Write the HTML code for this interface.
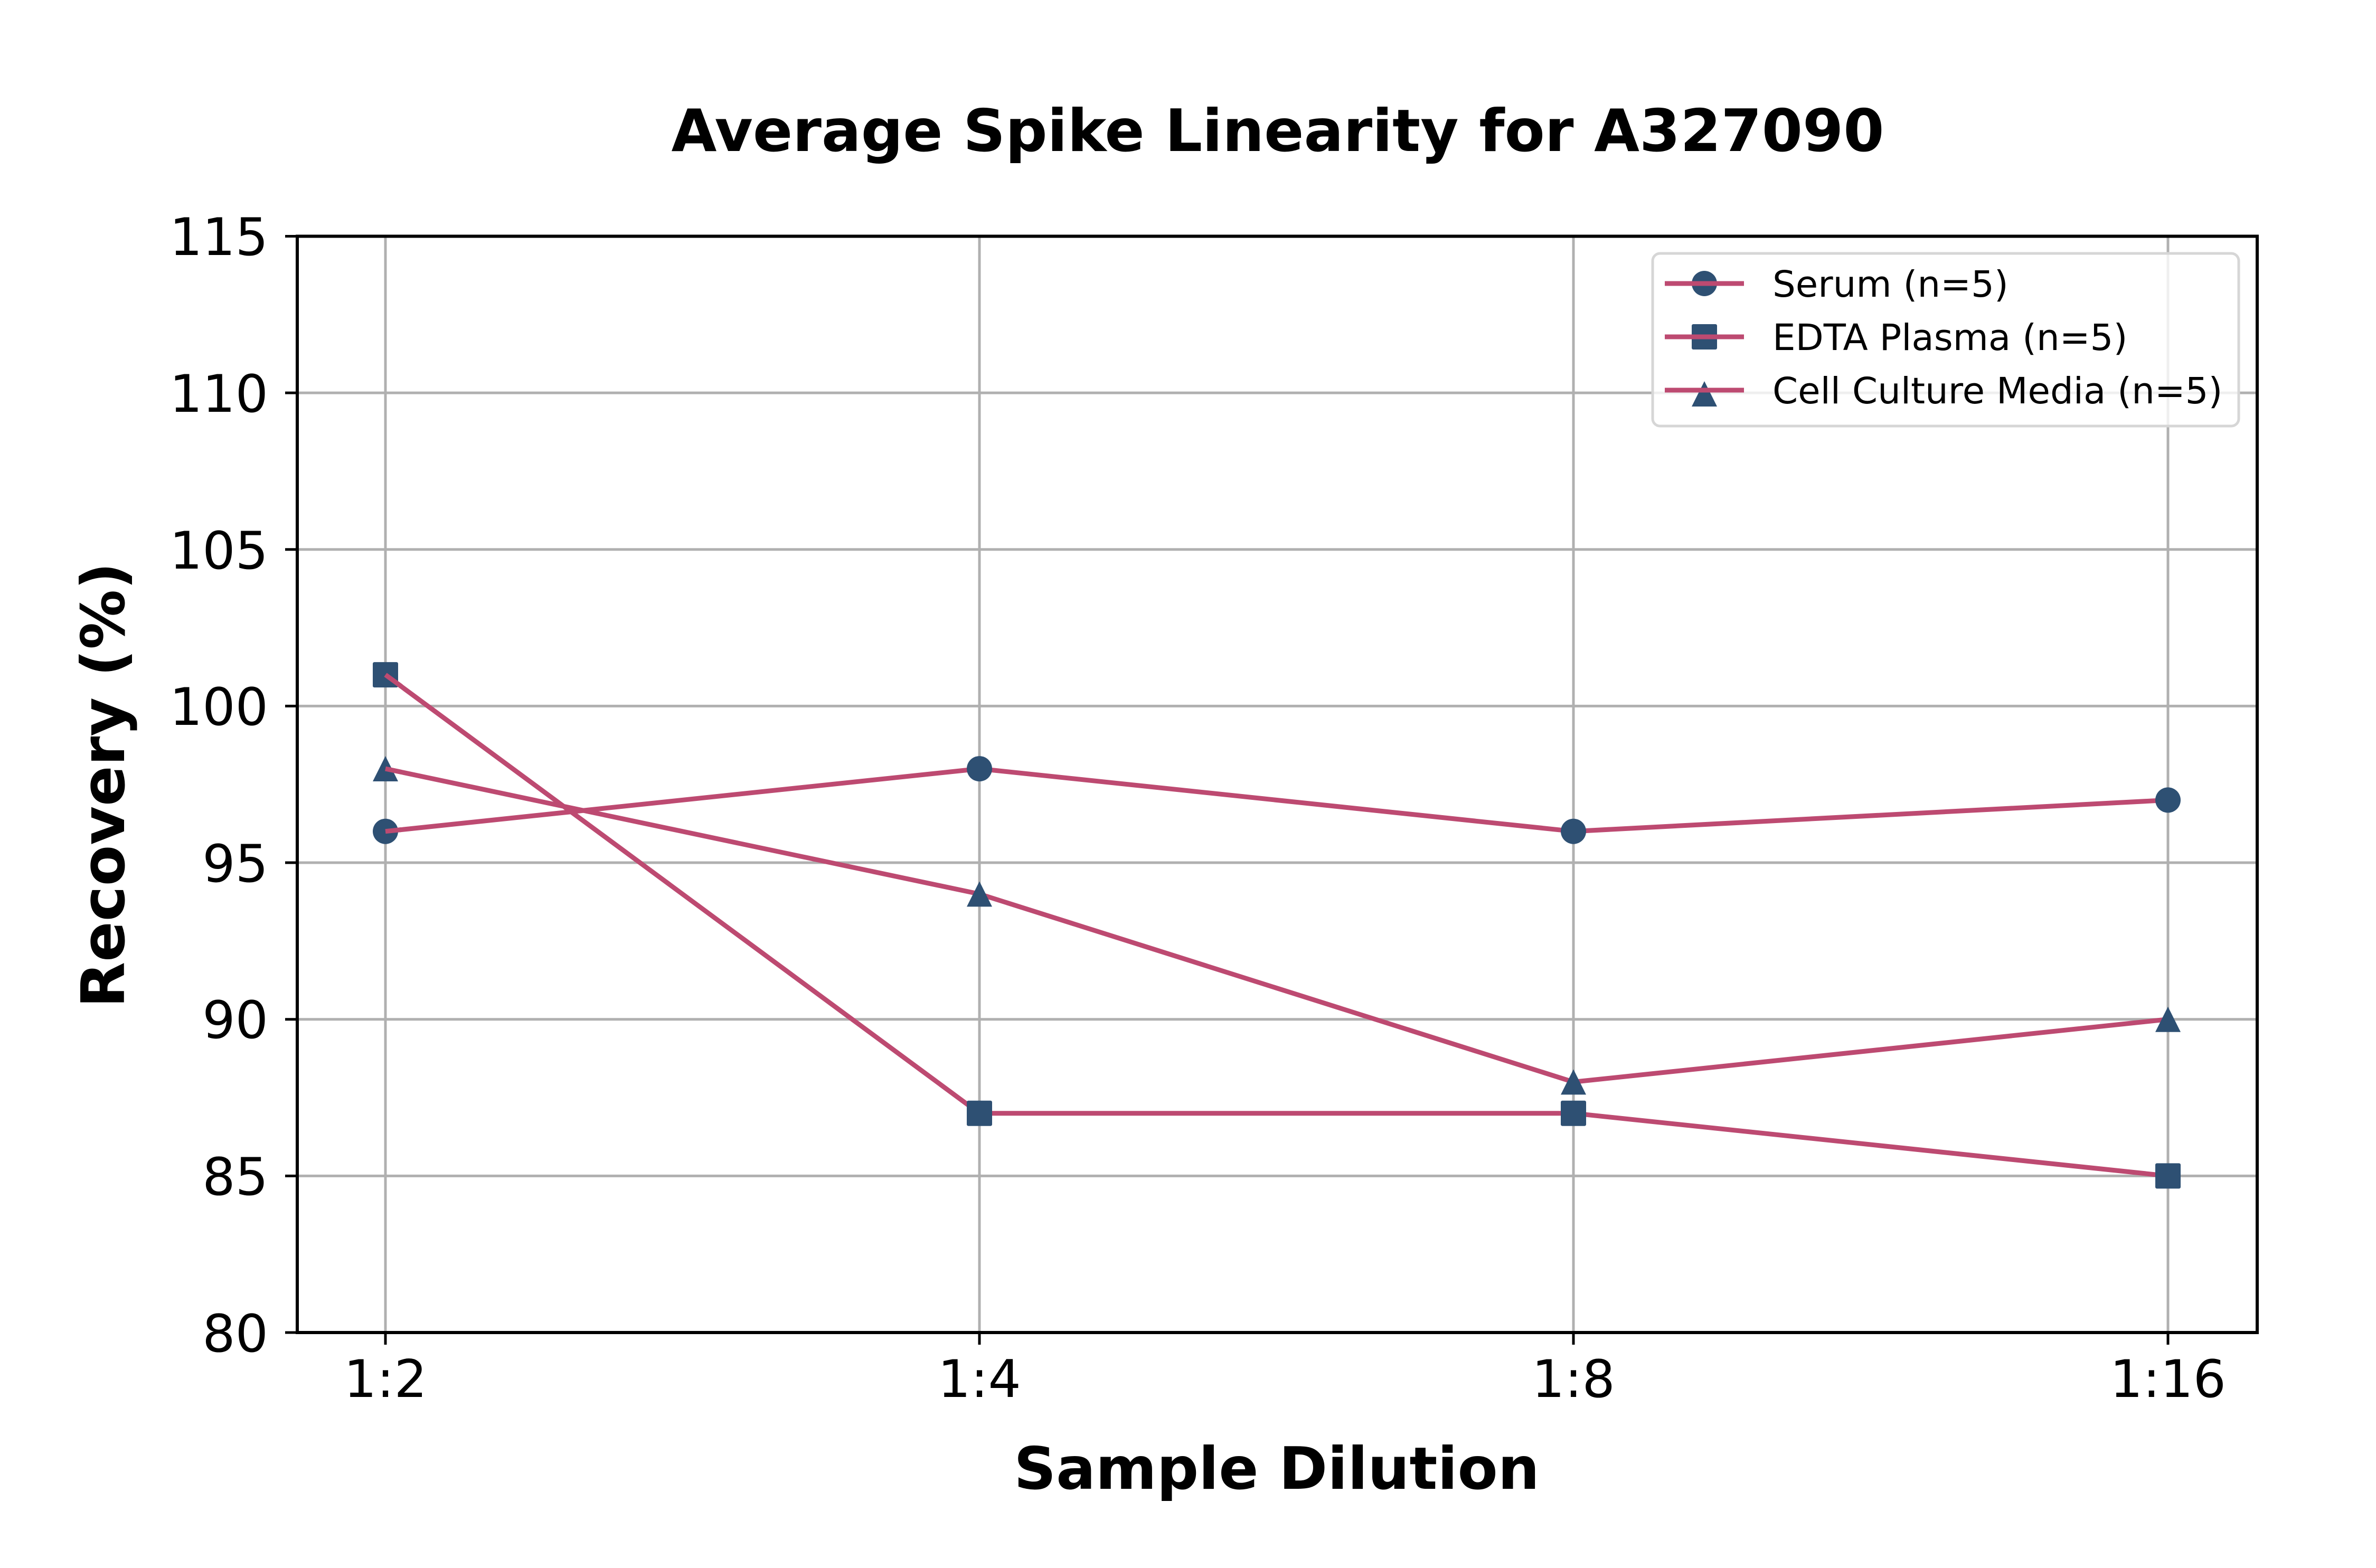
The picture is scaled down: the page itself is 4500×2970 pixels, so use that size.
<!DOCTYPE html>
<html><head><meta charset="utf-8"><style>
html,body{margin:0;padding:0;background:#fff;}
svg{display:block;}
text{font-family:"DejaVu Sans","Liberation Sans",sans-serif;fill:#000;}
</style></head><body>
<svg width="4500" height="2970" viewBox="0 0 4500 2970" xmlns="http://www.w3.org/2000/svg">
<rect width="4500" height="2970" fill="#fff"/>
<g stroke="#b0b0b0" stroke-width="5">
<line x1="563" y1="2227.4" x2="4275" y2="2227.4"/>
<line x1="563" y1="1930.7" x2="4275" y2="1930.7"/>
<line x1="563" y1="1634" x2="4275" y2="1634"/>
<line x1="563" y1="1337.4" x2="4275" y2="1337.4"/>
<line x1="563" y1="1040.8" x2="4275" y2="1040.8"/>
<line x1="563" y1="744.1" x2="4275" y2="744.1"/>
<line x1="730" y1="447.5" x2="730" y2="2524"/>
<line x1="1855" y1="447.5" x2="1855" y2="2524"/>
<line x1="2980" y1="447.5" x2="2980" y2="2524"/>
<line x1="4106" y1="447.5" x2="4106" y2="2524"/>
</g>
<g stroke="#bd4a71" stroke-width="9" fill="none" stroke-linejoin="round">
<polyline points="730,1574.7 1855,1456.1 2980,1574.7 4106,1515.4"/>
<polyline points="730,1278.1 1855,2108.7 2980,2108.7 4106,2227.4"/>
<polyline points="730,1456.1 1855,1693.4 2980,2049.4 4106,1930.7"/>
</g>
<g fill="#2e5073">
<circle cx="730" cy="1574.7" r="24"/><circle cx="1855" cy="1456.1" r="24"/><circle cx="2980" cy="1574.7" r="24"/><circle cx="4106" cy="1515.4" r="24"/>
<rect x="706" y="1254.1" width="48" height="48" rx="3"/><rect x="1831" y="2084.7" width="48" height="48" rx="3"/><rect x="2956" y="2084.7" width="48" height="48" rx="3"/><rect x="4082" y="2203.4" width="48" height="48" rx="3"/>
<polygon points="730,1432 754,1480 706,1480"/><polygon points="1855,1669.4 1879,1717.4 1831,1717.4"/><polygon points="2980,2025.4 3004,2073.4 2956,2073.4"/><polygon points="4106,1906.7 4130,1954.7 4082,1954.7"/>
</g>
<g stroke="#bd4a71" stroke-width="9" fill="none">
<line x1="730" y1="1574.7" x2="760" y2="1571.5"/>
<line x1="730" y1="1278.1" x2="760" y2="1300"/>
<line x1="730" y1="1456.1" x2="760" y2="1462.4"/>
</g>
<rect x="563" y="447.5" width="3712" height="2076.5" fill="none" stroke="#000" stroke-width="6"/>
<g stroke="#000" stroke-width="5">
<line x1="540" y1="2524" x2="563" y2="2524"/>
<line x1="540" y1="2227.4" x2="563" y2="2227.4"/>
<line x1="540" y1="1930.7" x2="563" y2="1930.7"/>
<line x1="540" y1="1634" x2="563" y2="1634"/>
<line x1="540" y1="1337.4" x2="563" y2="1337.4"/>
<line x1="540" y1="1040.8" x2="563" y2="1040.8"/>
<line x1="540" y1="744.1" x2="563" y2="744.1"/>
<line x1="540" y1="447.5" x2="563" y2="447.5"/>
<line x1="730" y1="2524" x2="730" y2="2547"/>
<line x1="1855" y1="2524" x2="1855" y2="2547"/>
<line x1="2980" y1="2524" x2="2980" y2="2547"/>
<line x1="4106" y1="2524" x2="4106" y2="2547"/>
</g>
<g font-size="98" text-anchor="end">
<text x="508" y="2560">80</text>
<text x="508" y="2263">85</text>
<text x="508" y="1966">90</text>
<text x="508" y="1670">95</text>
<text x="508" y="1373">100</text>
<text x="508" y="1077">105</text>
<text x="508" y="780">110</text>
<text x="508" y="483">115</text>
</g>
<g font-size="98" text-anchor="middle">
<text x="730" y="2646">1:2</text>
<text x="1855" y="2646">1:4</text>
<text x="2980" y="2646">1:8</text>
<text x="4106" y="2646">1:16</text>
</g>
<text x="2418" y="2820" font-size="111" font-weight="bold" text-anchor="middle">Sample Dilution</text>
<text transform="translate(235,1487) rotate(-90)" font-size="113" font-weight="bold" text-anchor="middle">Recovery (%)</text>
<text x="2420" y="286" font-size="111" font-weight="bold" text-anchor="middle">Average Spike Linearity for A327090</text>
<rect x="3130" y="480" width="1110" height="327" rx="14" fill="#fff" fill-opacity="0.8" stroke="#d6d6d6" stroke-width="5"/>
<g stroke="#bd4a71" stroke-width="9">
<line x1="3153" y1="537" x2="3303" y2="537"/>
<line x1="3153" y1="638" x2="3303" y2="638"/>
<line x1="3153" y1="739" x2="3303" y2="739"/>
</g>
<g fill="#2e5073">
<circle cx="3228" cy="537" r="24"/>
<rect x="3204" y="614" width="48" height="48" rx="3"/>
<polygon points="3228,722 3252,770 3204,770"/>
</g>
<g stroke="#bd4a71" stroke-width="9">
<line x1="3200" y1="537" x2="3256" y2="537"/>
<line x1="3200" y1="638" x2="3256" y2="638"/>
<line x1="3200" y1="739" x2="3256" y2="739"/>
</g>
<g font-size="69">
<text x="3357" y="562">Serum (n=5)</text>
<text x="3357" y="663">EDTA Plasma (n=5)</text>
<text x="3357" y="764">Cell Culture Media (n=5)</text>
</g>
</svg>
</body></html>
